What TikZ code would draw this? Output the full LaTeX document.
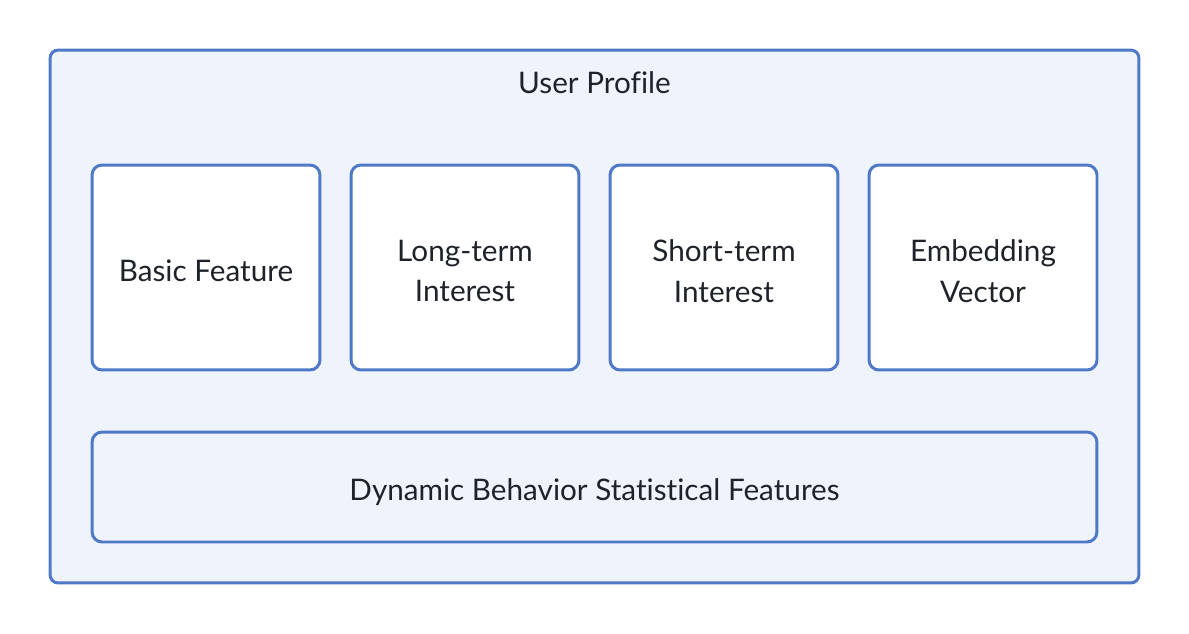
\documentclass[tikz,border=0pt]{standalone}
\usepackage{fontspec}
\setmainfont[Ligatures={NoCommon}]{Lato}
\definecolor{edgeblue}{HTML}{4F79C7}
\definecolor{paleblue}{HTML}{EFF4FC}
\definecolor{inkgray}{HTML}{1F2329}
\tikzset{
  labelfont/.style={text=inkgray, font=\fontsize{16.9}{23.3}\selectfont},
  boxtext/.style={labelfont, align=center, yshift=-0.07cm},
  profilebox/.style={draw=edgeblue, line width=1.7pt, fill=paleblue, rounded corners=0.16cm},
  featbox/.style={draw=edgeblue, line width=1.7pt, fill=white, rounded corners=0.2cm,
    minimum width=4.56cm, minimum height=4.1cm, label={[boxtext]center:#1}},
  statbox/.style={draw=edgeblue, line width=1.7pt, rounded corners=0.2cm,
    minimum width=20.1cm, minimum height=2.2cm, label={[boxtext, yshift=-0.03cm]center:#1}},
}
\begin{document}
\begin{tikzpicture}[x=0.02cm,y=-0.02cm]
\useasboundingbox (0,0) rectangle (1189,633);

\node[profilebox, minimum width=21.78cm, minimum height=10.66cm] (profile) at (594.5,316.5) {};
\node[labelfont] (title) at (594.5,83) {User Profile};

\node[featbox={Basic Feature}] (basic) at (206,267.5) {};
\node[featbox={Long-term\\Interest}] (longterm) at (465,267.5) {};
\node[featbox={Short-term\\Interest}] (shortterm) at (724,267.5) {};
\node[featbox={Embedding\\Vector}] (embed) at (983,267.5) {};

\node[statbox={Dynamic Behavior Statistical Features}] (dynamic) at (594.5,487) {};
\end{tikzpicture}
\end{document}
